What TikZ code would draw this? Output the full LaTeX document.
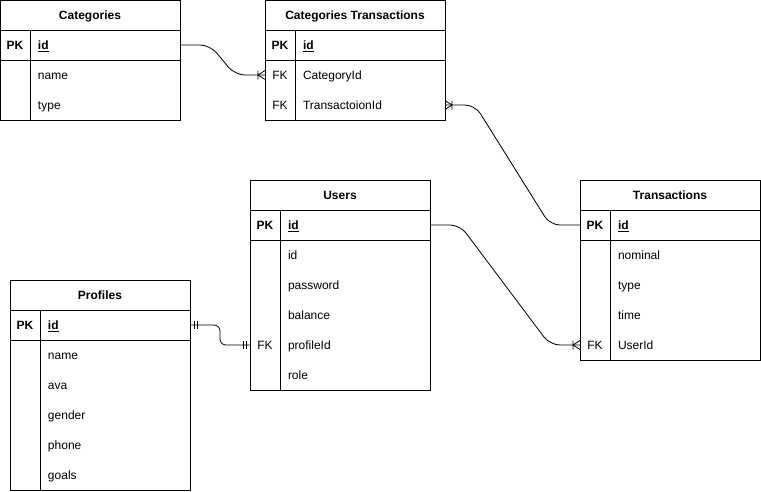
\documentclass[tikz,border=0pt]{standalone}
\usepackage{fontspec}
\setmainfont{Liberation Sans}
\usetikzlibrary{matrix,positioning,calc}
\tikzset{
  tbl/.style={matrix of nodes, row sep=0pt, column sep=0pt, nodes in empty cells,
    draw, line width=1pt, inner sep=0pt, outer sep=0pt, anchor=north west,
    column 1/.style={nodes={keycell}}, column 2/.style={nodes={attrcell}}},
  keycell/.style={text width=30pt, align=center, inner sep=0pt, minimum height=30pt, text height=10.5pt, text depth=1.5pt},
  attrcell/.style={text width=134pt, inner xsep=8pt, inner ysep=0pt, align=left, minimum height=30pt, text height=10.5pt, text depth=1.5pt},
  hdr/.style={draw, line width=1pt, minimum width=180pt, minimum height=30pt, inner sep=0pt, outer sep=0pt,
    text height=10.5pt, text depth=1.5pt, font=\fontsize{12pt}{14pt}\selectfont\bfseries},
  sep/.style={line width=1pt},
  conn/.style={line width=0.8pt, rounded corners=10pt},
  pics/many/.style={code={\draw[line width=0.8pt] (-7,-4.5) -- (-7,4.5) (0,-4.5) -- (-7,0) -- (0,4.5);}},
  pics/one/.style={code={\draw[line width=0.8pt] (-4,-4) -- (-4,4) (-7,-4) -- (-7,4);}},
}
\begin{document}
\begin{tikzpicture}[x=1pt,y=-1pt,font=\fontsize{12pt}{14pt}\selectfont]
  \useasboundingbox (0,0) rectangle (761,491);
  % Categories
  \matrix (cat) [tbl] at (0,30) {
    \textbf{PK} & \underline{\textbf{id}} \\
                & name \\
                & type \\
  };
  \node[hdr, above=0pt of cat] (cath) {Categories};
  \draw[sep] (cat-1-1.south west) -- (cat-1-2.south east);
  \draw[sep] (cat-1-1.north east) -- (cat-3-1.south east);
  % Categories Transactions
  \matrix (ctr) [tbl] at (265,30) {
    \textbf{PK} & \underline{\textbf{id}} \\
    FK          & CategoryId \\
    FK          & TransactoionId \\
  };
  \node[hdr, above=0pt of ctr] (ctrh) {Categories Transactions};
  \draw[sep] (ctr-1-1.south west) -- (ctr-1-2.south east);
  \draw[sep] (ctr-1-1.north east) -- (ctr-3-1.south east);
  % Users
  \matrix (usr) [tbl] at (250,210) {
    \textbf{PK} & \underline{\textbf{id}} \\
                & id \\
                & password \\
                & balance \\
    FK          & profileId \\
                & role \\
  };
  \node[hdr, above=0pt of usr] (usrh) {Users};
  \draw[sep] (usr-1-1.south west) -- (usr-1-2.south east);
  \draw[sep] (usr-1-1.north east) -- (usr-6-1.south east);
  % Transactions
  \matrix (trx) [tbl] at (580,210) {
    \textbf{PK} & \underline{\textbf{id}} \\
                & nominal \\
                & type \\
                & time \\
    FK          & UserId \\
  };
  \node[hdr, above=0pt of trx] (trxh) {Transactions};
  \draw[sep] (trx-1-1.south west) -- (trx-1-2.south east);
  \draw[sep] (trx-1-1.north east) -- (trx-5-1.south east);
  % Profiles
  \matrix (prf) [tbl] at (10,310) {
    \textbf{PK} & \underline{\textbf{id}} \\
                & name \\
                & ava \\
                & gender \\
                & phone \\
                & goals \\
  };
  \node[hdr, above=0pt of prf] (prfh) {Profiles};
  \draw[sep] (prf-1-1.south west) -- (prf-1-2.south east);
  \draw[sep] (prf-1-1.north east) -- (prf-6-1.south east);
  % relations
  \draw[conn] (cat-1-2.east) -- ++(30,0) -- ([xshift=-30pt]ctr-2-1.west) -- (ctr-2-1.west);
  \pic at (ctr-2-1.west) {many};
  \draw[conn] (ctr-3-2.east) -- ++(30,0) -- ([xshift=-30pt]trx-1-1.west) -- (trx-1-1.west);
  \pic[rotate=180] at (ctr-3-2.east) {many};
  \draw[conn] (usr-1-2.east) -- ++(30,0) -- ([xshift=-30pt]trx-5-1.west) -- (trx-5-1.west);
  \pic at (trx-5-1.west) {many};
  \draw[conn, rounded corners=6pt] (prf-1-2.east) -- ++(30,0) -- ([xshift=-30pt]usr-5-1.west) -- (usr-5-1.west);
  \pic[rotate=180] at (prf-1-2.east) {one};
  \pic at (usr-5-1.west) {one};
\end{tikzpicture}
\end{document}
